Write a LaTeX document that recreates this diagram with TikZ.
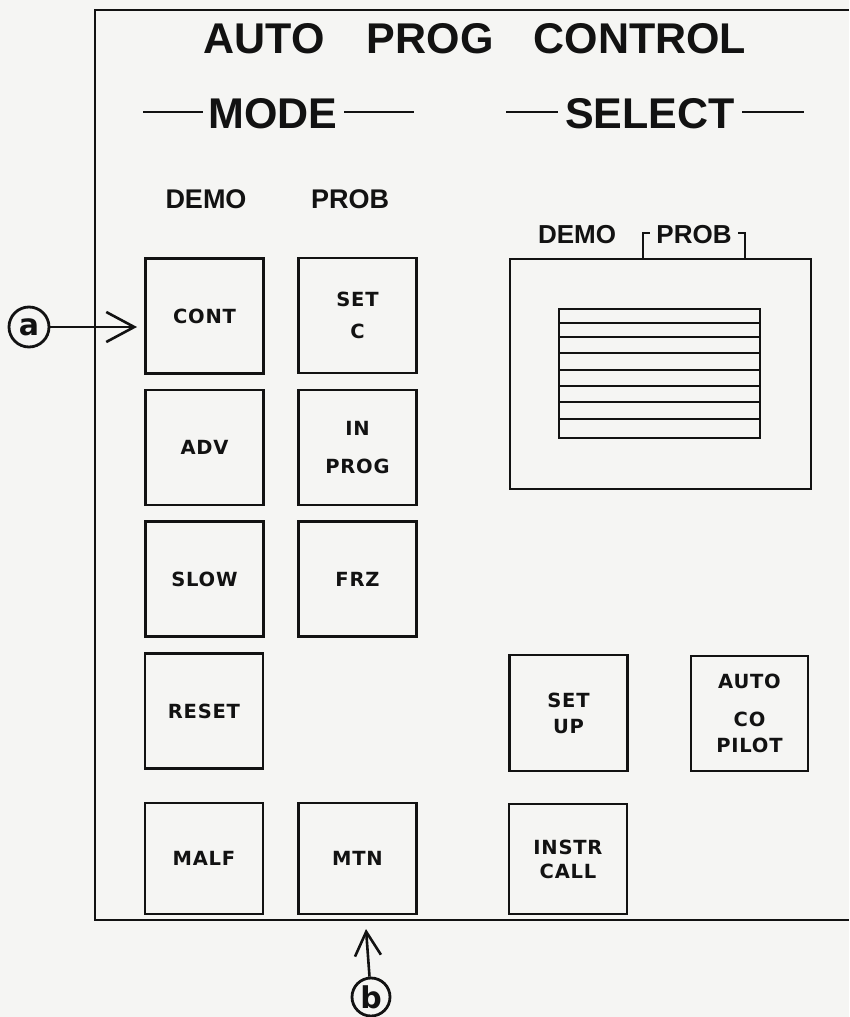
\documentclass[tikz,border=0pt]{standalone}
\usepackage{fontspec}
\setmainfont{Liberation Sans}
\newfontfamily\btnfamily[LetterSpace=4]{DejaVu Sans}
\newfontfamily\circfamily{DejaVu Sans}
\usetikzlibrary{arrows.meta}
\definecolor{paper}{RGB}{245,245,243}
\definecolor{ink}{RGB}{18,18,18}
\tikzset{
  frame/.style={draw=ink, line width=2.6pt},
  btn/.style={draw=ink, line width=2.7pt, minimum width=118pt, minimum height=115pt,
    inner sep=0pt, align=center, text=ink, font=\btnfamily\bfseries\fontsize{19.5}{24}\selectfont},
  bigtext/.style={text=ink, inner sep=0pt, font=\bfseries\fontsize{43}{50}\selectfont},
  midtext/.style={text=ink, inner sep=0pt, font=\bfseries\fontsize{27}{32}\selectfont},
  callout/.style={circle, draw=ink, line width=2.8pt, minimum size=40pt, inner sep=0pt,
    text=ink, font=\circfamily\bfseries\fontsize{30}{32}\selectfont},
  pointer/.style={draw=ink, line width=2.6pt, -{Straight Barb[length=28pt, width=30pt, line width=2.6pt]}},
  pointerb/.style={draw=ink, line width=2.6pt, -{Straight Barb[length=24pt, width=26pt, line width=2.6pt]}},
  bar/.style={draw=ink, line width=2.8pt},
  scr/.style={draw=ink, line width=2.5pt}
}
\begin{document}
\begin{tikzpicture}[x=1pt, y=-1pt]
\useasboundingbox (0,0) rectangle (849,1017);
\fill[paper] (0,0) rectangle (849,1017);

% outer frame
\draw[frame] (849,10) -- (95,10) -- (95,920) -- (849,920);

% headings
\node[bigtext, anchor=base] (title) at (475,53) {AUTO\hspace{42pt}PROG\hspace{40pt}CONTROL};
\node[bigtext, anchor=base] (mode) at (273,128) {MODE};
\node[bigtext, anchor=base] (select) at (650,128) {SELECT};
\draw[bar] (143,112) -- (203,112);
\draw[bar] (344,112) -- (414,112);
\draw[bar] (506,112) -- (558,112);
\draw[bar] (742,112) -- (804,112);

% column labels
\node[midtext, anchor=base] (demoL) at (206,208) {DEMO};
\node[midtext, anchor=base] (probL) at (350,208) {PROB};

% left buttons
\node[btn] (cont)   at (204.5,316)   {CONT};
\node[btn] (setc)   at (357.5,315.5) {SET\\[8pt]C};
\node[btn] (adv)    at (204.5,447.5) {ADV};
\node[btn] (inprog) at (357.5,447.5) {IN\\[14pt]PROG};
\node[btn] (slow)   at (204.5,579)   {SLOW};
\node[btn] (frz)    at (357.5,579)   {FRZ};
\node[btn] (reset)  at (204,711)     {RESET};
\node[btn, minimum height=111pt] (malf) at (204,858.5) {MALF};
\node[btn, minimum height=111pt] (mtn)  at (357.5,858.5) {MTN};

% right buttons
\node[btn, minimum height=116pt] (setup)  at (568.5,713) {SET\\[2pt]UP};
\node[btn, minimum width=117pt, minimum height=115pt] (autoco) at (749.5,713.5) {AUTO\\[14pt]CO\\[2pt]PILOT};
\node[btn, minimum height=110pt] (instr)  at (568,859) {INSTR\\CALL};

% display
\node[midtext, anchor=base, font=\bfseries\fontsize{26}{30}\selectfont] (demoR) at (577,243) {DEMO};
\node[midtext, anchor=base, font=\bfseries\fontsize{26}{30}\selectfont] (probR) at (694,243) {PROB};
\node[scr, minimum width=301pt, minimum height=230pt, inner sep=0pt] (display) at (660.5,374) {};
\node[scr, minimum width=201pt, minimum height=129pt, inner sep=0pt] (screen) at (659.5,373.5) {};
\foreach \yy in {323,337,353,370,386,402,419}
  \draw[scr] (559,\yy) -- (760,\yy);
\draw[scr] (643,259) -- (643,233) -- (650,233);
\draw[scr] (745,259) -- (745,233) -- (738,233);

% callouts
\node[callout] (a) at (29,327) {a};
\coordinate (atip) at (137,327);
\draw[pointer] (a) -- (atip);
\node[callout, minimum size=38pt] (b) at (371,997) {b};
\coordinate (btip) at (366,929);
\draw[pointerb] (b) -- (btip);
\end{tikzpicture}
\end{document}
